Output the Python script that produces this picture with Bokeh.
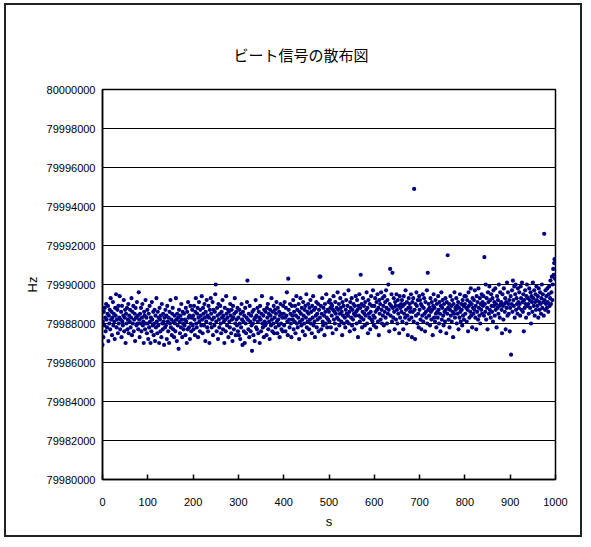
from bokeh.plotting import figure
from bokeh.models import FixedTicker, Range1d, PrintfTickFormatter
from bokeh.embed import file_html
from bokeh.resources import INLINE

TITLE = "ビート信号の散布図"
X_LABEL = "s"
Y_LABEL = "Hz"

# Beat frequency readings, Hz above 79 980 000 Hz, one per second
BASE_HZ = 79980000
hz_offset = [
    6900, 8100, 7300, 8600, 7900, 8800, 8300, 7600, 9000, 8200, 7800, 8500, 8900, 7100, 8400, 8000, 8700, 7700, 9300, 8200,
    8600, 7400, 8300, 9100, 7900, 8500, 8100, 7200, 8800, 8400, 9500, 7800, 8200, 8700, 7500, 8900, 8000, 8300, 9400, 7700,
    8200, 8600, 7300, 8900, 8100, 7900, 8400, 9200, 7600, 8300, 8700, 7000, 8500, 8000, 8800, 7700, 8200, 9000, 7500, 8400,
    8100, 8700, 7800, 8300, 9300, 7400, 8600, 8000, 8900, 7600, 8200, 8500, 7100, 8800, 8300, 7900, 9100, 8000, 8400, 7700,
    9600, 8200, 7300, 8500, 8000, 8800, 7600, 8300, 9000, 7900, 8100, 7000, 8600, 8400, 7700, 9200, 8000, 8300, 7500, 8700,
    8000, 7200, 8500, 7800, 8900, 8100, 7000, 8300, 7600, 9100, 8200, 7900, 8600, 7400, 8000, 8700, 7100, 8400, 7800, 9300,
    8100, 7500, 8600, 7900, 8300, 7000, 8800, 8200, 7600, 8400, 7300, 9000, 8000, 7700, 8500, 8100, 6900, 8300, 7800, 8700,
    7900, 8400, 7200, 8900, 8100, 7600, 8300, 7000, 8600, 8000, 9200, 7800, 8200, 7400, 8500, 8800, 7700, 8100, 7300, 8400,
    8000, 7600, 9300, 8200, 7100, 8500, 7900, 8300, 6700, 8700, 8100, 7500, 8400, 7800, 9000, 8200, 7300, 8600, 8000, 7700,
    8500, 7900, 8200, 7400, 8800, 8100, 7000, 8600, 7700, 9100, 8300, 7800, 8400, 7200, 8900, 8000, 7600, 8300, 8700, 7900,
    8400, 7700, 8900, 8200, 7400, 8600, 9300, 8000, 7800, 8500, 8800, 7300, 8300, 9100, 8100, 7600, 8700, 8400, 7900, 9400,
    8200, 7500, 8800, 8500, 7900, 9000, 8300, 7100, 8600, 8100, 9200, 7800, 8400, 7600, 8900, 8300, 7000, 8700, 8000, 9300,
    8500, 7800, 8200, 9100, 7400, 8700, 8300, 7900, 8600, 9500, 10000, 8100, 7600, 8800, 8400, 7200, 9000, 8200, 7800, 8500,
    8900, 8000, 7500, 8600, 8300, 9200, 7700, 8400, 8100, 7000, 8800, 8200, 7600, 9400, 8500, 7900, 8300, 8700, 7300, 8600,
    8100, 7800, 9000, 8400, 7500, 8700, 8200, 7100, 8900, 8300, 7700, 8500, 9300, 8000, 7400, 8600, 8200, 7900, 8800, 7600,
    8300, 7400, 8700, 8000, 7200, 8500, 7800, 9000, 8200, 6900, 8600, 8100, 7600, 8400, 7000, 8800, 8000, 7500, 8300, 9100,
    10200, 8200, 7700, 8500, 7300, 8900, 8100, 7600, 8400, 7900, 6600, 8600, 8000, 7400, 8700, 8200, 7100, 8300, 9200, 7800,
    8400, 7700, 8800, 8100, 7500, 8600, 8300, 7000, 8900, 8200, 7600, 8500, 9400, 8000, 7800, 8400, 7300, 8700, 8100, 7900,
    8600, 8000, 7400, 8800, 8300, 9000, 7700, 8500, 8100, 7200, 8700, 8400, 7900, 9300, 8200, 7600, 8600, 8000, 8900, 7500,
    8300, 8700, 7800, 8500, 9100, 8100, 7500, 8800, 8200, 7900, 8600, 7300, 8400, 9000, 8000, 7700, 8500, 8300, 7600, 8900,
    8500, 7900, 9100, 8300, 7600, 8800, 8400, 9600, 8100, 7400, 10300, 8700, 8200, 7800, 9000, 8500, 8000, 7300, 8900, 8400,
    8200, 9200, 7700, 8600, 8100, 8900, 7500, 8400, 9400, 8000, 8700, 7800, 8300, 9000, 7200, 8600, 8100, 9300, 8500, 7900,
    8800, 8200, 7600, 9100, 8400, 8000, 8700, 7400, 8900, 8300, 9500, 7800, 8600, 8100, 9000, 8500, 7700, 8800, 8200, 9200,
    8000, 8600, 7500, 8900, 8300, 9400, 7900, 8700, 8100, 7300, 8800, 8400, 9100, 7800, 8500, 8200, 9000, 7600, 8700, 10400,
    8300, 10400, 8900, 7700, 8500, 9300, 8100, 7900, 8800, 8400, 7400, 9000, 8600, 8000, 9500, 8300, 7800, 8700, 8200, 9100,
    8600, 8100, 9200, 8800, 7800, 9000, 8400, 8900, 7500, 8700, 9400, 8200, 8600, 8000, 9100, 8500, 7700, 8800, 8300, 9600,
    8700, 8200, 9000, 7900, 8500, 9300, 8800, 8100, 8600, 7400, 9100, 8400, 8900, 8000, 9500, 8300, 7800, 8700, 9200, 8500,
    8100, 8900, 8400, 9700, 8000, 8600, 7600, 9100, 8800, 8300, 9300, 7900, 8700, 8200, 9000, 8500, 7700, 8900, 8400, 9400,
    8600, 8000, 9200, 8700, 7300, 8900, 8400, 9500, 8100, 8800, 10500, 8300, 9000, 7800, 8600, 9300, 8200, 8900, 8500, 7900,
    9100, 8400, 8700, 9600, 8000, 8800, 7500, 9200, 8500, 8300, 9000, 7700, 8600, 9400, 8200, 8900, 8100, 9700, 8400, 7900,
    8900, 8300, 9300, 8600, 7800, 9100, 8700, 9500, 8100, 8800, 7400, 9200, 8500, 9000, 8200, 9600, 8700, 8000, 9300, 8400,
    8900, 7900, 9400, 8600, 9100, 8300, 9700, 8800, 8000, 9200, 8500, 10000, 8700, 7600, 9000, 10800, 8400, 8900, 9500, 8100,
    10600, 8800, 8300, 9300, 8600, 7700, 9100, 8900, 8200, 9500, 8700, 8000, 9200, 8500, 8900, 7500, 9400, 8300, 8800, 9000,
    8600, 9200, 8100, 8900, 7700, 9400, 8500, 9000, 8300, 9700, 8700, 8000, 9100, 8400, 7400, 8800, 9300, 8200, 9000, 8600,
    8800, 9500, 8300, 7300, 9100, 8600, 9300, 8100, 14900, 8700, 7200, 9000, 8400, 9600, 8900, 8000, 9200, 8500, 7800, 9400,
    8700, 9200, 8200, 9000, 7700, 8900, 8400, 9500, 8100, 8800, 9300, 8500, 7600, 9100, 8600, 8300, 9700, 8000, 10600, 8700,
    9000, 8400, 8800, 7900, 9300, 8600, 8200, 9100, 8700, 7400, 8900, 9500, 8300, 8800, 8100, 9200, 8500, 7800, 9000, 8600,
    8300, 9400, 8700, 8000, 9100, 8500, 7600, 8900, 9600, 8200, 8800, 9200, 8400, 7900, 9000, 8600, 8100, 9300, 8700, 7500,
    9100, 8500, 11500, 8800, 8200, 9000, 7800, 8700, 9400, 8400, 8900, 8100, 9200, 8600, 7300, 9000, 8500, 9600, 8300, 8800,
    8700, 9300, 8000, 8900, 8500, 9100, 7700, 8800, 8300, 9500, 8600, 8100, 9000, 8700, 7900, 9200, 8400, 8900, 8200, 9400,
    9000, 8500, 9400, 8800, 8100, 9200, 8700, 7600, 9600, 8900, 8300, 9100, 8600, 9800, 8400, 9000, 7800, 9300, 8800, 8500,
    9200, 8700, 9700, 8300, 8900, 7700, 9400, 8600, 9100, 8200, 9800, 8800, 8400, 9300, 8000, 9000, 8700, 9500, 8500, 9100,
    8900, 9400, 8400, 11400, 9000, 8600, 10000, 8200, 9300, 8800, 7700, 9600, 9100, 8500, 9900, 8700, 9200, 8300, 9500, 8900,
    8600, 9300, 8100, 9700, 8900, 9100, 8400, 9800, 8700, 9000, 7800, 9400, 8800, 9200, 8500, 10000, 8900, 8300, 9600, 9000,
    9100, 8700, 7500, 9500, 8900, 8200, 9800, 9000, 8600, 9300, 7700, 9100, 8800, 10100, 8400, 9600, 9000, 8500, 9200, 7600,
    8800, 9400, 6400, 9000, 9700, 8600, 10200, 9200, 8900, 9900, 8300, 9500, 10000, 8700, 9300, 9000, 8500, 9800, 9100, 8800,
    9600, 9000, 8400, 9900, 9300, 8700, 10100, 9100, 8600, 9500, 7600, 9200, 8800, 9700, 9000, 8300, 9400, 10000, 8900, 9300,
    9000, 8500, 9800, 9200, 8800, 9600, 8000, 9400, 9100, 8600, 10100, 9300, 8900, 9700, 8400, 9100, 9500, 8700, 9900, 9200,
    8900, 9400, 8300, 9800, 9100, 8700, 9600, 9000, 8500, 9300, 10000, 8800, 9500, 9100, 8400, 12600, 9200, 8700, 9700, 9000,
    9400, 8800, 9800, 9100, 8600, 9500, 9900, 8900, 9300, 10200, 9000, 9600, 10400, 9200, 10000, 10800, 10500, 11100, 11300, 10300,
]
seconds = list(range(len(hz_offset)))
hz = [BASE_HZ + v for v in hz_offset]

x_ticks = [0, 100, 200, 300, 400, 500, 600, 700, 800, 900, 1000]
y_ticks = [79980000, 79982000, 79984000, 79986000, 79988000, 79990000,
           79992000, 79994000, 79996000, 79998000, 80000000]

FONT = "Liberation Sans"

p = figure(width=578, height=534, output_backend="svg", toolbar_location=None,
           x_range=Range1d(x_ticks[0], x_ticks[-1]),
           y_range=Range1d(y_ticks[0], y_ticks[-1]),
           min_border_left=96, min_border_right=29,
           min_border_top=84, min_border_bottom=60)
p.styles = {"border": "2px solid #222", "margin-left": "4px", "margin-top": "3px"}

p.title.text = TITLE
p.title.align = "left"
p.title.offset = 131
p.title.standoff = 49
p.title.text_font = "Noto Sans CJK JP"
p.title.text_font_size = "15px"
p.title.text_font_style = "normal"
p.title.text_color = "black"

p.outline_line_color = "black"
p.outline_line_width = 1.5
p.background_fill_color = "white"
p.border_fill_color = "white"

p.xgrid.grid_line_color = None
p.ygrid.grid_line_color = "black"
p.ygrid.grid_line_width = 1
p.ygrid.ticker = FixedTicker(ticks=y_ticks)

p.xaxis.ticker = FixedTicker(ticks=x_ticks)
p.yaxis.ticker = FixedTicker(ticks=y_ticks)
p.yaxis.formatter = PrintfTickFormatter(format="%d")
p.xaxis.formatter = PrintfTickFormatter(format="%d")

for ax in (p.xaxis[0], p.yaxis[0]):
    ax.axis_line_color = "black"
    ax.axis_line_width = 1.5
    ax.minor_tick_line_color = None
    ax.major_label_text_font = FONT
    ax.major_label_text_font_size = "11px"
    ax.major_label_text_color = "black"
    ax.axis_label_text_font = FONT
    ax.axis_label_text_font_size = "13px"
    ax.axis_label_text_font_style = "normal"
    ax.axis_label_text_color = "black"

p.xaxis.major_tick_in = 5
p.xaxis.major_tick_out = 0
p.xaxis.major_tick_line_color = "black"
p.xaxis.major_tick_line_width = 1.5
p.xaxis.major_label_standoff = 18
p.xaxis.axis_label = X_LABEL
p.xaxis.axis_label_standoff = 5

p.yaxis.major_tick_line_color = None
p.yaxis.major_tick_in = 0
p.yaxis.major_tick_out = 0
p.yaxis.major_label_standoff = 7
p.yaxis.axis_label = Y_LABEL
p.yaxis.axis_label_standoff = 4

p.scatter(seconds, hz, size=4.2, color="#000080", line_color=None)

open("out.html", "w").write(file_html(p, INLINE))
